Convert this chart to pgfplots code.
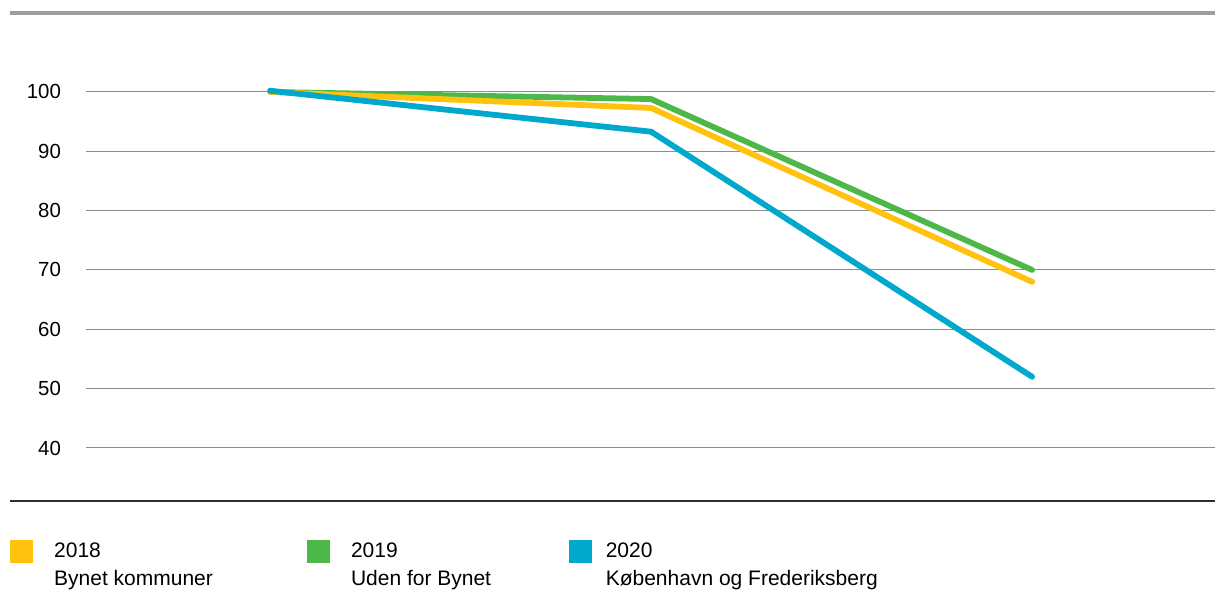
\documentclass[border=0pt]{standalone}
\usepackage{pgfplots}
\pgfplotsset{compat=1.18}
\usepackage{fontspec}
\setmainfont{Liberation Sans}
\definecolor{cyel}{HTML}{FFC20E}
\definecolor{cgrn}{HTML}{4DB848}
\definecolor{cblu}{HTML}{00A8CC}
\definecolor{cgrid}{HTML}{8C8C8C}
\begin{document}
\begin{tikzpicture}
\begin{axis}[
  scale only axis, width=564.5pt, height=244pt,
  xmin=-0.483, xmax=2.48, ymin=31.07, ymax=113.3,
  axis line style={draw=none}, tick style={draw=none},
  xtick=\empty,
  ytick={40,50,60,70,80,90,100},
  ymajorgrids, grid style={color=cgrid, line width=0.5pt},
  /pgf/number format/assume math mode=true,
  yticklabel style={font=\fontsize{10.2}{12}\selectfont, xshift=-9pt},
  clip=false,
  legend columns=3,
  legend image code/.code={\fill[#1] (0pt,-2.5pt) rectangle (11pt,8.5pt);},
  legend style={at={(axis description cs:-0.0673,-0.0799)}, anchor=north west,
    draw=none, fill=none, inner sep=0pt, column sep=0pt,
    font=\fontsize{10.5}{14}\selectfont,
    nodes={inner sep=0pt, anchor=base west},
    /tikz/every odd column/.append style={column sep=10.5pt},
    /tikz/every even column/.append style={column sep=0pt}},
  legend cell align=left,
]
\addplot[cgrn, line width=2.9pt, line cap=round, line join=round, forget plot] coordinates {(0,100) (1,98.8) (2,70.0)};
\addplot[cyel, line width=2.9pt, line cap=round, line join=round, forget plot] coordinates {(0,100) (1,97.3) (2,68.0)};
\addplot[cblu, line width=2.9pt, line cap=round, line join=round, forget plot] coordinates {(0,100.2) (1,93.3) (2,52.0)};
\addlegendimage{cyel}
\addlegendentry{\raisebox{0pt}[\height][0pt]{\parbox[t]{126.5pt}{2018\\Bynet kommuner}}}
\addlegendimage{cgrn}
\addlegendentry{\raisebox{0pt}[\height][0pt]{\parbox[t]{109pt}{2019\\Uden for Bynet}}}
\addlegendimage{cblu}
\addlegendentry{\hspace*{-3.5pt}\raisebox{0pt}[\height][0pt]{\parbox[t]{160pt}{2020\\København og Frederiksberg}}}
\draw[color=black!38, line width=1.6pt] (axis description cs:-0.0673,1) -- (axis description cs:1,1);
\draw[color=black!82, line width=0.6pt] (axis description cs:-0.0673,0) -- (axis description cs:1,0);
\coordinate (bbsw) at (axis description cs:-0.07617,-0.18648);
\coordinate (bbne) at (axis description cs:1,1.02664);
\end{axis}
\pgfresetboundingbox
\path[use as bounding box] (bbsw) rectangle (bbne);
\end{tikzpicture}
\end{document}
